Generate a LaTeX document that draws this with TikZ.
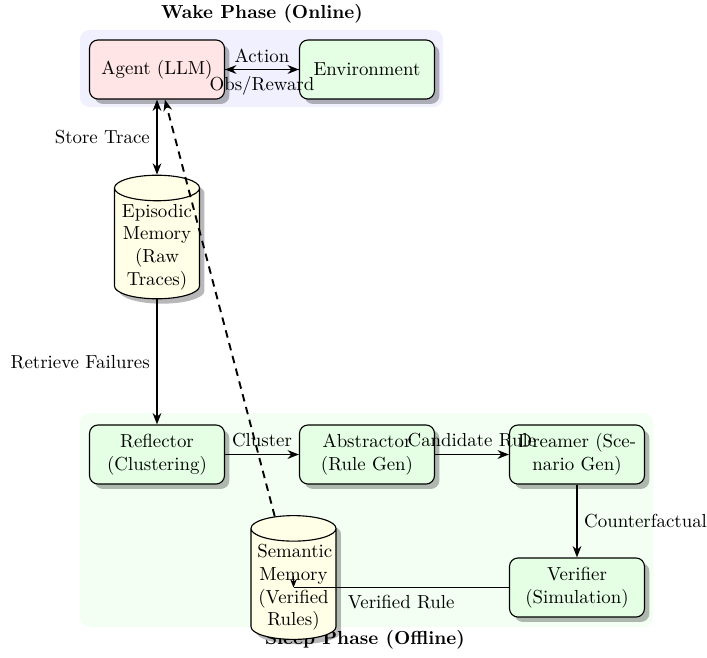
\documentclass[tikz,border=0pt]{standalone}
\usetikzlibrary{shapes.geometric,shadows,arrows.meta}
\begin{document}
\begin{tikzpicture}[x=0.53pt,y=-0.53pt,
  shad/.style={drop shadow={shadow xshift=2.6pt, shadow yshift=-2.6pt, fill=black, opacity=0.28}},
  box/.style={draw, rounded corners=4.5pt, text width=2.28cm, align=center,
    minimum height=31.3pt, shad, fill=green!10, line width=0.6pt},
  store/.style={draw, cylinder, shape border rotate=90, aspect=0.3,
    text width=1.35cm, align=center, fill=yellow!10, shad, line width=0.6pt,
    inner ysep=1.5pt, minimum height=50pt},
  tip/.tip={Stealth[length=6pt,width=4.6pt]},
  arr/.style={-tip, line width=1pt},
  phase/.style={font=\bfseries}]
\useasboundingbox (0,0) rectangle (707,657);
% backgrounds
\fill[blue!6, rounded corners=5pt] (80,30) rectangle (443,107);
\fill[green!5, rounded corners=5pt] (80,413) rectangle (653,627);
\node[phase] (wake) at (262,14) {Wake Phase (Online)};
\node[phase] (sleep) at (365,640) {Sleep Phase (Offline)};
% nodes
\node[box, fill=red!10] (agent) at (157,69.5) {Agent (LLM)};
\node[box] (env) at (367,69.5) {Environment};
\node[store] (epi) at (157,247) {Episodic Memory (Raw Traces)};
\node[box] (refl) at (157,454.5) {Reflector (Clustering)};
\node[box] (abs) at (367,454.5) {Abstractor (Rule Gen)};
\node[box] (dream) at (577,454.5) {Dreamer (Scenario Gen)};
\node[box] (verif) at (577,587.5) {Verifier (Simulation)};
\node[store] (sem) at (293.5,587.5) {Semantic Memory (Verified Rules)};
% connectors
\draw[arr] (agent) -- node[above] {Action} (env);
\draw[arr] (env) -- node[below] {Obs/Reward} (agent);
\draw[arr, tip-tip] (agent) -- node[left] {Store Trace} (epi);
\draw[arr] (epi) -- node[left] {Retrieve Failures} (refl);
\draw[arr] (refl) -- node[above] {Cluster} (abs);
\draw[arr] (abs) -- node[above] {Candidate Rule} (dream);
\draw[arr] (dream) -- node[right] {Counterfactual} (verif);
\coordinate (vr) at (sem.center |- verif.west);
\draw[line width=1pt] (verif.west) -- node[below] {Verified Rule} (vr);
\draw[-{Stealth[length=4.5pt,width=3.6pt]}, line width=1pt] ([yshift=6pt]vr) -- (vr);
\draw[arr, dash pattern=on 4pt off 3pt] (sem) -- (agent);
\end{tikzpicture}
\end{document}
